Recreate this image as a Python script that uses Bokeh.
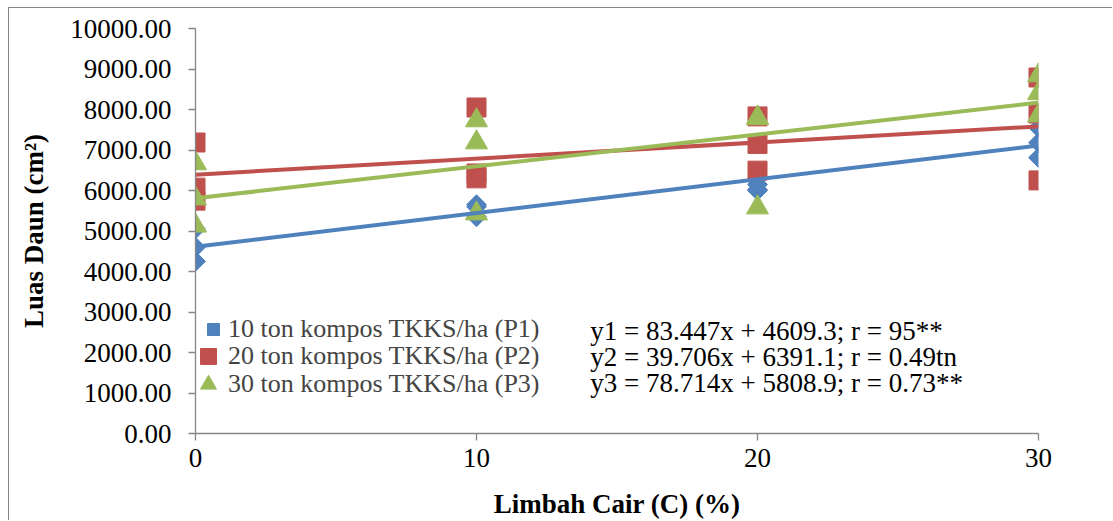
import math
from bokeh.plotting import figure
from bokeh.models import (ColumnDataSource, Legend, LegendItem, Label,
                          FixedTicker, NumeralTickFormatter, Range1d)
from bokeh.embed import file_html
from bokeh.resources import INLINE

# ---- data ----
x_vals = [0, 0, 0, 10, 10, 10, 20, 20, 20, 30, 30, 30]
p1_vals = [5050, 4600, 4250, 5650, 5350, 5600, 6000, 6020, 6150, 7550, 7180, 6810]
p2_vals = [7185, 6070, 5750, 8050, 6420, 6300, 7830, 7150, 6490, 8790, 7900, 6250]
p3_vals = [6670, 5800, 5130, 7730, 7185, 5430, 7800, 7780, 5580, 8840, 8400, 7850]

series_names = ["10 ton kompos TKKS/ha (P1)", "20 ton kompos TKKS/ha (P2)", "30 ton kompos TKKS/ha (P3)"]
slopes = [83.447, 39.706, 78.714]
intercepts = [4609.3, 6391.1, 5808.9]
equations = ["y1 = 83.447x + 4609.3; r = 95**",
             "y2 = 39.706x + 6391.1; r = 0.49tn",
             "y3 = 78.714x + 5808.9; r = 0.73**"]
x_title = "Limbah Cair (C) (%)"
y_title = "Luas Daun (cm\u00b2)"
x_ticks = [0, 10, 20, 30]
y_ticks = [0, 1000, 2000, 3000, 4000, 5000, 6000, 7000, 8000, 9000, 10000]

colors = ["#4F81BD", "#C0504D", "#9BBB59"]
FONT = "Liberation Serif"
AXIS_COL = "#868686"

p = figure(width=1104, height=513, output_backend="svg", toolbar_location=None,
           x_range=Range1d(0, 30), y_range=Range1d(0, 10000),
           min_border_left=186, min_border_right=75, min_border_top=20, min_border_bottom=88)
p.margin = (7, 0, 0, 8)
p.styles = {"border-left": "1px solid #868686", "border-top": "1px solid #868686"}
p.outline_line_color = None
p.xgrid.visible = False
p.ygrid.visible = False
p.background_fill_color = "white"
p.border_fill_color = "white"

# axes
for ax in (p.xaxis[0], p.yaxis[0]):
    ax.axis_line_color = AXIS_COL
    ax.axis_line_width = 1.3
    ax.major_tick_line_color = AXIS_COL
    ax.major_tick_line_width = 1.3
    ax.major_tick_in = 0
    ax.major_tick_out = 7
    ax.minor_tick_line_color = None
    ax.major_label_text_font = FONT
    ax.major_label_text_font_size = "27px"
    ax.major_label_text_color = "black"
    ax.axis_label_text_font = FONT
    ax.axis_label_text_font_size = "27px"
    ax.axis_label_text_font_style = "bold"
    ax.axis_label_text_color = "black"

p.xaxis.ticker = FixedTicker(ticks=x_ticks)
p.yaxis.ticker = FixedTicker(ticks=y_ticks)
p.yaxis.formatter = NumeralTickFormatter(format="0.00")
p.xaxis.major_label_standoff = 8
p.yaxis.major_label_standoff = 17
p.xaxis.axis_label = x_title
p.xaxis.axis_label_standoff = 19
p.yaxis.axis_label = y_title
p.yaxis.axis_label_standoff = 18

src = ColumnDataSource(dict(x=x_vals, p1=p1_vals, p2=p2_vals, p3=p3_vals))

r1 = p.scatter("x", "p1", source=src, marker="square", angle=math.pi / 4, size=14,
               fill_color=colors[0], line_color=colors[0])
r2 = p.scatter("x", "p2", source=src, marker="square", size=19,
               fill_color=colors[1], line_color=colors[1])
r3 = p.scatter("x", "p3", source=src, marker="triangle", size=22,
               fill_color=colors[2], line_color=colors[2])

# trend lines from the printed equations
x_line = [min(x_ticks), max(x_ticks)]
for m, b, c in zip(slopes, intercepts, colors):
    p.line(x_line, [m * xx + b for xx in x_line], line_color=c, line_width=4)

# one legend per row so that each marker gets its own size
row_centers = [329, 356, 384]          # canvas px in the reference
glyph_boxes = [30, 40, 40]
text_start = 228
renderers = [r1, r2, r3]
frame_bottom_px = 433
frame_left_px = 195
for name, rr, gb, yc in zip(series_names, renderers, glyph_boxes, row_centers):
    glyph_left = text_start - gb
    lg = Legend(items=[LegendItem(label=name, renderers=[rr])],
                location=(glyph_left - frame_left_px, frame_bottom_px - yc - gb / 2),
                orientation="vertical",
                label_text_font=FONT, label_text_font_size="26px",
                label_height=gb, glyph_height=gb, glyph_width=gb,
                label_standoff=0, spacing=0, padding=0, margin=0,
                border_line_color=None, background_fill_alpha=0)
    p.add_layout(lg)

eq_y = [2543, 1877, 1235]
for txt, yy in zip(equations, eq_y):
    p.add_layout(Label(x=14.05, y=yy, text=txt, text_font=FONT, text_font_size="27px",
                       text_baseline="middle", text_color="black"))

open("out.html", "w").write(file_html(p, INLINE))
